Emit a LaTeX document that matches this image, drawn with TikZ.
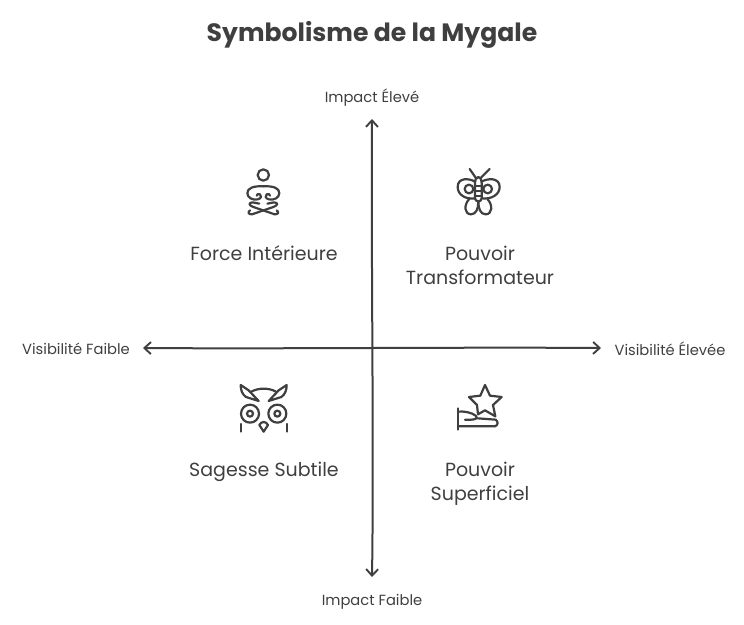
\documentclass[tikz,border=0pt]{standalone}
\usepackage{fontspec}
\setmainfont{Poppins}
\usetikzlibrary{arrows.meta}
\definecolor{ink}{HTML}{3F3F3F}
\tikzset{
  axisline/.style={draw=ink,line width=2pt,{Straight Barb[length=6.5pt,width=12pt,line width=1.9pt]}-{Straight Barb[length=6.5pt,width=12pt,line width=1.9pt]}},
  titletext/.style={text=ink,font=\fontsize{25.1}{28}\selectfont\bfseries},
  axistext/.style={text=ink,font=\fontsize{14.7}{16}\selectfont},
  quadtext/.style={text=ink,font=\fontsize{19}{24}\selectfont,align=center},
  icon/.style={draw=ink,line width=2.2pt,line cap=round,line join=round,fill=none}
}
\begin{document}
\begin{tikzpicture}[x=1pt,y=-1pt]
\useasboundingbox (0,0) rectangle (744,624);
\node[titletext] (title) at (372,34.5) {Symbolisme de la Mygale};
\node[axistext] (top) at (372,97.5) {Impact Élevé};
\node[axistext] (bottom) at (372,602) {Impact Faible};
\node[axistext] (left) at (76,349) {Visibilité Faible};
\node[axistext] (right) at (670,349) {Visibilité Élevée};
\coordinate (vtop) at (372,119);
\coordinate (vbot) at (372,577);
\coordinate (hleft) at (143,348);
\coordinate (hright) at (601,348);
\draw[axisline] (vtop) .. controls (371,250) and (374,450) .. (vbot);
\draw[axisline] (hleft) .. controls (280,349) and (460,347) .. (hright);
\node[quadtext] (q1) at (264,253) {Force Intérieure};
\node[quadtext] (q2) at (480,265) {Pouvoir\\Transformateur};
\node[quadtext] (q3) at (264,472) {Sagesse Subtile};
\node[quadtext] (q4) at (480,483.5) {Pouvoir\\Superficiel};
% meditating figure
\begin{scope}[shift={(230,155)},x=0.3333pt,y=-0.3333pt]
\draw[icon] (100,60) circle[radius=17];
\draw[icon] (100,94) .. controls (70,92) and (52,100) .. (52,114) .. controls (52,128) and (68,137) .. (84,133) .. controls (94,130) and (96,122) .. (90,118) .. controls (85,115) and (80,118) .. (80,122);
\draw[icon] (100,94) .. controls (130,92) and (148,100) .. (148,114) .. controls (148,128) and (132,137) .. (116,133) .. controls (106,130) and (104,122) .. (110,118) .. controls (115,115) and (120,118) .. (120,122);
\draw[icon] (66,178) -- (130,156) .. controls (146,150) and (144,143) .. (132,142) -- (112,146);
\draw[icon] (134,178) -- (70,156) .. controls (54,150) and (56,143) .. (68,142) -- (88,146);
\draw[icon] (66,178) .. controls (55,178) and (52,172) .. (60,166);
\draw[icon] (134,178) .. controls (145,178) and (148,172) .. (140,166);
\end{scope}
% butterfly
\begin{scope}[shift={(445,155)},x=0.3333pt,y=-0.3333pt]
\draw[icon] (92,68) -- (74,42);
\draw[icon] (108,68) -- (134,42);
\draw[icon] (100,66) .. controls (92,66) and (90,76) .. (90,84) -- (90,130) .. controls (90,142) and (110,142) .. (110,130) -- (110,84) .. controls (110,76) and (108,66) .. (100,66);
\draw[icon] (90,92) -- (110,92) (90,108) -- (110,108) (90,124) -- (110,124);
\draw[icon] (90,80) .. controls (74,70) and (38,66) .. (38,96) .. controls (38,118) and (60,134) .. (90,130);
\draw[icon] (110,80) .. controls (126,70) and (164,66) .. (164,96) .. controls (164,118) and (140,134) .. (110,130);
\draw[icon] (72,102) circle[radius=13];
\draw[icon] (128,102) circle[radius=13];
\draw[icon] (72,133) .. controls (56,150) and (58,178) .. (78,178) .. controls (94,178) and (100,160) .. (100,140);
\draw[icon] (128,133) .. controls (144,150) and (142,178) .. (122,178) .. controls (106,178) and (100,160) .. (100,140);
\end{scope}
% owl
\begin{scope}[shift={(230,375)},x=0.3333pt,y=-0.3333pt]
\draw[icon] (32,30) -- (56,46) -- (86,78) -- (48,66) .. controls (36,58) and (32,44) .. cycle;
\draw[icon] (170,30) -- (146,46) -- (116,78) -- (154,66) .. controls (166,58) and (170,44) .. cycle;
\draw[icon] (64,50) .. controls (85,38) and (117,38) .. (138,50);
\draw[icon] (60,116) circle[radius=27];
\draw[icon] (60,116) circle[radius=9];
\draw[icon] (142,116) circle[radius=27];
\draw[icon] (142,116) circle[radius=9];
\draw[icon] (32,147) -- (32,170);
\draw[icon] (172,147) -- (172,170);
\draw[icon] (88,150) .. controls (94,138) and (108,138) .. (114,150) -- (101,170) -- cycle;
\end{scope}
% hand and star
\begin{scope}[shift={(445,375)},x=0.3333pt,y=-0.3333pt]
\draw[icon] (120,30) -- (135,62) -- (170,66) -- (144,90) -- (151,124) -- (120,106) -- (99,118) -- (96,90) -- (72,66) -- (106,62) -- cycle;
\draw[icon] (40,100) -- (40,164);
\draw[icon] (40,110) .. controls (55,108) and (80,112) .. (92,122) .. controls (100,130) and (90,134) .. (78,134) -- (60,134);
\draw[icon] (98,130) -- (152,134) .. controls (160,140) and (160,150) .. (150,154) -- (42,154);
\end{scope}
\end{tikzpicture}
\end{document}
